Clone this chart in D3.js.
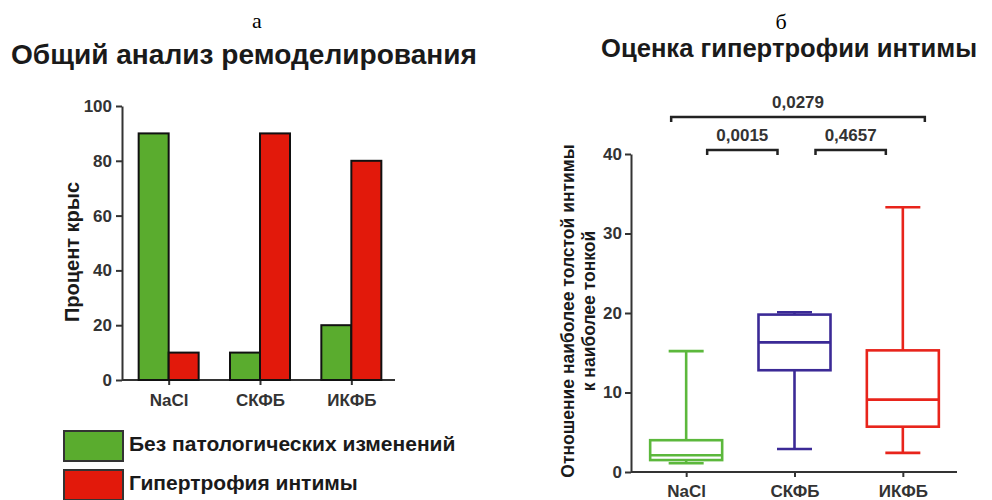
<!DOCTYPE html>
<html>
<head>
<meta charset="utf-8">
<script src="https://cdn.jsdelivr.net/npm/d3@7"></script>
<style>
  body { margin: 0; background: #fff; }
  svg { display: block; }
  text { font-family: "Liberation Sans", Arial, sans-serif; }
</style>
</head>
<body>
<div id="chart"></div>
<script>
// ---- data ----
const categories = ['NaCl', 'СКФБ', 'ИКФБ']
const seriesNames = ['Без патологических изменений', 'Гипертрофия интимы']
const normalPct = [90, 10, 20]
const hypertrophyPct = [10, 90, 80]
const pctTicks = [0, 20, 40, 60, 80, 100]

const boxMin = [1.1, 2.9, 2.4]
const boxQ1 = [1.5, 12.8, 5.7]
const boxMedian = [2.1, 16.3, 9.1]
const boxQ3 = [4.0, 19.8, 15.3]
const boxMax = [15.2, 20.1, 33.3]
const ratioTicks = [0, 10, 20, 30, 40]
const comparisons = [
  { a: 0, b: 2, p: '0,0279', level: 1 },
  { a: 0, b: 1, p: '0,0015', level: 0 },
  { a: 1, b: 2, p: '0,4657', level: 0 }
]

const W = 992, H = 500
const ink = '#222'
const green = '#5aac2e', red = '#e2190b'
const boxColors = ['#5cb83c', '#3b2a96', '#e8241b']

const svg = d3.select('#chart').append('svg')
  .attr('width', W).attr('height', H)

function styleAxis(g, size) {
  g.select('.domain').attr('stroke', '#333').attr('stroke-width', 2)
  g.selectAll('.tick line').attr('stroke', '#333').attr('stroke-width', 2)
  g.selectAll('.tick text')
    .attr('fill', '#333').attr('font-size', size + 'px').attr('font-weight', 'bold')
    .attr('font-family', '"Liberation Sans", Arial, sans-serif')
}

// ---- panel a: grouped bars ----
svg.append('text').attr('x', 257).attr('y', 28).attr('text-anchor', 'middle')
  .attr('font-size', '22px').style('font-family', '"Liberation Serif", serif').text('а')
svg.append('text').attr('x', 244).attr('y', 64).attr('text-anchor', 'middle')
  .attr('font-size', '28px').attr('font-weight', 'bold').attr('fill', '#1a1a1a')
  .attr('textLength', 466).attr('lengthAdjust', 'spacingAndGlyphs')
  .text('Общий анализ ремоделирования')

const xA = d3.scalePoint().domain(categories).range([123, 397]).padding(0.5)
const xSub = d3.scaleBand().domain(seriesNames).range([-30, 30])
const yA = d3.scaleLinear().domain([0, 100]).range([380, 106])

const axA = svg.append('g').attr('transform', 'translate(122,0)')
  .call(d3.axisLeft(yA).tickValues(pctTicks).tickSize(6).tickPadding(4).tickSizeOuter(0))
styleAxis(axA, 17)
const axAx = svg.append('g').attr('transform', 'translate(0,380)')
  .call(d3.axisBottom(xA).tickSize(5).tickPadding(9).tickSizeOuter(0))
axAx.select('.domain').attr('d', 'M122,0H395')
styleAxis(axAx, 17)

svg.append('text').attr('transform', 'translate(79,252) rotate(-90)')
  .attr('text-anchor', 'middle').attr('font-size', '20px').attr('font-weight', 'bold')
  .attr('fill', '#1a1a1a').text('Процент крыс')

const barRows = categories.map((c, i) => [
  { cat: c, s: seriesNames[0], v: normalPct[i], color: green },
  { cat: c, s: seriesNames[1], v: hypertrophyPct[i], color: red }
]).flat()

svg.append('g').selectAll('rect').data(barRows).join('rect')
  .attr('x', d => xA(d.cat) + xSub(d.s))
  .attr('y', d => yA(d.v))
  .attr('width', xSub.bandwidth())
  .attr('height', d => yA(0) - yA(d.v))
  .attr('fill', d => d.color)
  .attr('stroke', '#111').attr('stroke-width', 2)

// legend
const legend = svg.append('g')
seriesNames.forEach((name, i) => {
  const y0 = 431 + i * 39
  legend.append('rect').attr('x', 64).attr('y', y0).attr('width', 59).attr('height', 30)
    .attr('fill', i === 0 ? green : red).attr('stroke', '#333').attr('stroke-width', 2)
  legend.append('text').attr('x', 129).attr('y', y0 + 20)
    .attr('font-size', '21px').attr('font-weight', 'bold').attr('fill', '#1a1a1a')
    .text(name)
})

// ---- panel б: box plots ----
svg.append('text').attr('x', 781).attr('y', 29).attr('text-anchor', 'middle')
  .attr('font-size', '22px').style('font-family', '"Liberation Serif", serif').text('б')
svg.append('text').attr('x', 789).attr('y', 57).attr('text-anchor', 'middle')
  .attr('font-size', '26px').attr('font-weight', 'bold').attr('fill', '#1a1a1a')
  .attr('textLength', 376).attr('lengthAdjust', 'spacingAndGlyphs')
  .text('Оценка гипертрофии интимы')

const xB = d3.scalePoint().domain(categories).range([632, 957]).padding(0.5)
const yB = d3.scaleLinear().domain([0, 40]).range([472, 154])

const axB = svg.append('g').attr('transform', 'translate(631,0)')
  .call(d3.axisLeft(yB).tickValues(ratioTicks).tickSize(6).tickPadding(3).tickSizeOuter(0))
styleAxis(axB, 17)
const axBx = svg.append('g').attr('transform', 'translate(0,472)')
  .call(d3.axisBottom(xB).tickSize(5).tickPadding(8).tickSizeOuter(0))
axBx.select('.domain').attr('d', 'M631,0H957')
styleAxis(axBx, 17)

const yLab = svg.append('text').attr('transform', 'translate(574,311) rotate(-90)')
  .attr('text-anchor', 'middle').attr('font-size', '17.5px').attr('font-weight', 'bold')
  .attr('fill', '#1a1a1a')
yLab.append('tspan').attr('x', 0).attr('dy', 0).text('Отношение наиболее толстой интимы')
yLab.append('tspan').attr('x', 0).attr('dy', 21).text('к наиболее тонкой')

const boxW = 72, capW = 35
const boxes = categories.map((c, i) => ({
  cat: c, min: boxMin[i], q1: boxQ1[i], med: boxMedian[i], q3: boxQ3[i], max: boxMax[i], color: boxColors[i]
}))
const bg = svg.append('g').selectAll('g').data(boxes).join('g')
  .attr('stroke', d => d.color).attr('stroke-width', 2.6).attr('fill', 'none')
bg.append('line').attr('x1', d => xB(d.cat)).attr('x2', d => xB(d.cat))
  .attr('y1', d => yB(d.min)).attr('y2', d => yB(d.q1))
bg.append('line').attr('x1', d => xB(d.cat)).attr('x2', d => xB(d.cat))
  .attr('y1', d => yB(d.q3)).attr('y2', d => yB(d.max))
bg.append('line').attr('x1', d => xB(d.cat) - capW / 2).attr('x2', d => xB(d.cat) + capW / 2)
  .attr('y1', d => yB(d.min)).attr('y2', d => yB(d.min))
bg.append('line').attr('x1', d => xB(d.cat) - capW / 2).attr('x2', d => xB(d.cat) + capW / 2)
  .attr('y1', d => yB(d.max)).attr('y2', d => yB(d.max))
bg.append('rect').attr('x', d => xB(d.cat) - boxW / 2).attr('width', boxW)
  .attr('y', d => yB(d.q3)).attr('height', d => yB(d.q1) - yB(d.q3))
bg.append('line').attr('x1', d => xB(d.cat) - boxW / 2).attr('x2', d => xB(d.cat) + boxW / 2)
  .attr('y1', d => yB(d.med)).attr('y2', d => yB(d.med))

// significance brackets
const bracketG = svg.append('g')
comparisons.forEach(c => {
  const x1 = xB(categories[c.a]) + (c.level ? -15 : 21)
  const x2 = xB(categories[c.b]) + (c.level ? 22 : -17)
  const yb = yB(40) - 4 - c.level * 33
  bracketG.append('path')
    .attr('d', `M${x1},${yb + 5}V${yb}H${x2}V${yb + 5}`)
    .attr('fill', 'none').attr('stroke', ink).attr('stroke-width', 2.5)
  bracketG.append('text').attr('x', (x1 + x2) / 2).attr('y', yb - 9)
    .attr('text-anchor', 'middle').attr('font-size', '17px').attr('font-weight', 'bold')
    .attr('fill', '#333').text(c.p)
})
</script>
</body>
</html>
